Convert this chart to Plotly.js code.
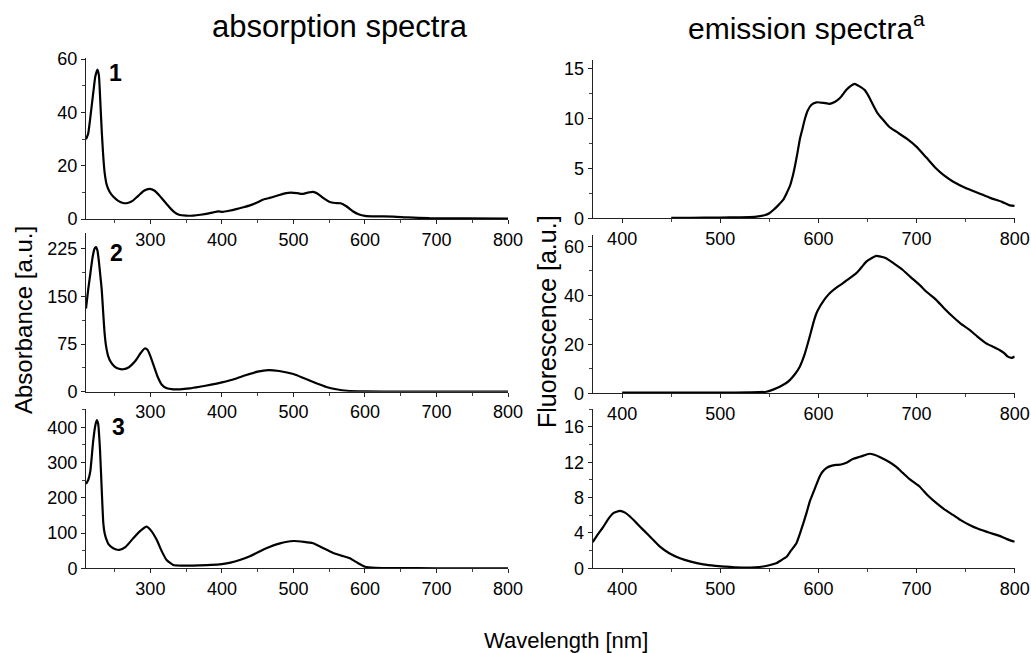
<!DOCTYPE html>
<html>
<head>
<meta charset="utf-8">
<script src="https://cdn.plot.ly/plotly-3.0.1.min.js"></script>
<style>html,body{margin:0;padding:0;background:#fff;}#chart{width:1031px;height:653px;}</style>
</head>
<body>
<div id="chart"></div>
<script>
// ---- Absorption spectra (wavelength nm, absorbance a.u.) ----
var abs1_x = [210,213,216,220,223,226,228,230,232,234,236,239,243,248,255,262,268,275,283,291,299,306,312,318,326,333,340,350,360,370,380,388,395,401,410,420,430,440,450,458,468,478,488,497,505,512,520,527,534,542,550,558,566,574,583,592,600,615,640,660,690,740,800];
var abs1_y = [29.9,32,38,47,53.5,56.1,54,44,33,24,17.5,12.8,10.2,8.4,6.8,6.0,6.0,6.8,8.7,10.6,11.3,10.6,9.0,7.1,4.6,2.7,1.6,1.25,1.3,1.6,2.0,2.5,2.85,2.7,3.1,3.7,4.4,5.2,6.3,7.3,8.0,8.8,9.6,9.9,9.7,9.4,9.9,10.2,9.5,7.8,6.5,6.0,5.9,4.8,2.9,1.7,1.2,1.0,0.9,0.6,0.3,0.2,0.15];

var abs2_x = [210,213,216,219,222,224,226,228,230,232,234,236,238,241,245,250,256,262,270,278,286,292,296,300,305,310,316,323,332,341,355,369,385,400,418,434,450,465,480,500,515,532,546,560,575,600,650,700,800];
var abs2_y = [130.8,160,185,210,225,227.5,222,205,183,160,125,92,72,56,46,39.5,36,35.3,38.5,47,60,68,66,56,40,24,11,5.3,3.8,3.8,5.2,7.8,11,14.7,20,26.2,31.5,34,32.5,27.8,21,13.2,7.5,3.8,1.5,0.5,0.1,0,0];

var abs3_x = [210,213,216,220,223,225,227,229.6,232,234.2,236,238,242,248,256.5,265,276,286,294.8,302,309,316,322.7,332,345,369,385,400,412,425,440,462,480,500,515,527.5,540,555,567,578.8,590,600,615,645,700,800];
var abs3_y = [239,250,275,360,405,420.7,410,335,222,128,100,85,67,56.7,52,60,85,106,118,104,80,48,23.5,9.4,7.5,8.5,9.5,12,16,23.5,35,56.7,70,77.4,75,71,59,44.3,36,28.4,15,4.5,1.5,0.5,0.2,0];

// ---- Emission spectra (wavelength nm, fluorescence a.u.) ----
var em1_x = [450,470,500,520,535,545,550,554,559,564,567.5,570.8,574,576,578.5,581,583.5,586,589,592.9,598,605,611.5,617,621.7,628.5,633,637,641,647,651,655.6,660,665.8,672,679.4,690,699.8,710,720,728,737,750,764,775,787,795,800];
var em1_y = [0.05,0.05,0.07,0.1,0.15,0.3,0.5,0.83,1.3,1.84,2.5,3.2,4.3,5.2,6.5,7.9,8.9,9.9,10.8,11.4,11.65,11.6,11.5,11.7,12.05,12.9,13.3,13.5,13.3,12.9,12.3,11.4,10.6,9.9,9.2,8.7,8.0,7.2,6.1,5.0,4.3,3.7,3.05,2.5,2.05,1.65,1.3,1.25];

var em2_x = [400,450,500,530,547,555,560.6,566,570.8,576,581,586,591,595,598,601.5,604.7,608,611.5,618,625,631,638.7,644,648.8,654,659,664,669,677,686,694,703,711,720,728,737,745,754,762,771,778,784.5,789,793,797,800];
var em2_y = [0.3,0.3,0.3,0.35,0.65,1.7,2.7,3.9,5.4,7.8,10.9,16,23,29,32.7,35.5,37.5,39.3,40.9,43.1,45,46.8,49.1,51.5,53.8,55.2,56.2,55.8,55.2,53,50.4,47.5,44.3,41.2,38.2,34.8,31.3,28.5,25.9,23.2,20.4,19,17.7,16.5,15,14.5,15];

var em3_x = [370,375,380.8,386,391,397.8,403,408,414,421.5,430,438.5,448,458.9,470,482.6,495,506,516,526.7,535,543.7,550,557,562,567.5,572,577.6,582,587.8,591,594.5,598,601.3,604,608,613,618,623,628.5,635,643,652,657,662.4,672.6,679,686,694,703,711,720,728,737,745,754,762,771,778,784.5,792,800];
var em3_y = [2.95,3.8,4.7,5.6,6.24,6.5,6.3,5.86,5.2,4.35,3.4,2.45,1.7,1.13,0.75,0.45,0.28,0.18,0.1,0.07,0.1,0.2,0.35,0.57,0.9,1.3,2.0,2.84,4.2,6.24,7.5,8.5,9.5,10.4,10.9,11.35,11.6,11.7,11.75,11.95,12.37,12.65,12.97,12.85,12.6,12.0,11.5,10.8,10.0,9.26,8.3,7.4,6.7,6.05,5.45,4.9,4.5,4.15,3.9,3.67,3.3,3.0];

var panel_labels = ["1","2","3"];
var titles = ["absorption spectra","emission spectra<sup>a</sup>"];
var yTitles = ["Absorbance [a.u.]","Fluorescence [a.u.]"];
var xTitle = "Wavelength [nm]";

var W = 1031, H = 653;
function px(x){return x/W;}
function py(y){return 1-y/H;}

var FONT = "Liberation Sans, Arial, Helvetica, sans-serif";
var line = {color:'#000', width:2.2, shape:'spline', smoothing:0.5};

var series = [
  [abs1_x,abs1_y],[abs2_x,abs2_y],[abs3_x,abs3_y],
  [em1_x,em1_y],[em2_x,em2_y],[em3_x,em3_y]
];
var traces = series.map(function(s,i){
  var n = i===0 ? '' : String(i+1);
  return {x:s[0], y:s[1], type:'scatter', mode:'lines', line:line,
          xaxis:'x'+n, yaxis:'y'+n, hoverinfo:'skip', showlegend:false};
});

var leftDom = [px(86), px(508)];
var rightDom = [px(592.7), px(1014.7)];
var yDoms = [
  [py(219), py(58.3)], [py(391.7), py(232.7)], [py(568.3), py(409.3)],
  [py(218.3), py(60)], [py(393.3), py(235)], [py(568.3), py(409.3)]
];
var yRanges = [[0,60.3],[0,250],[0,451],[0,15.9],[0,64.7],[0,18]];
var yDt = [20,75,100,5,20,4];

function xAxis(i){
  var left = i<3;
  var n = String(i+1);
  return {
    domain: left?leftDom:rightDom,
    range: left?[210,800]:[370,800],
    anchor: 'y'+(i===0?'':n),
    tick0: 300, dtick: 100,
    showline:true, linecolor:'#222', linewidth:1, mirror:false,
    showgrid:false, zeroline:false,
    ticks:'outside', ticklen:4, tickwidth:1, tickcolor:'#222',
    minor:{dtick:50, tick0:250, ticks:'outside', ticklen:3, tickwidth:1, tickcolor:'#444', showgrid:false},
    tickfont:{family:FONT, size:18, color:'#000'},
    fixedrange:true
  };
}
function yAxis(i){
  var n = String(i+1);
  return {
    domain: yDoms[i],
    range: yRanges[i],
    anchor: 'x'+(i===0?'':n),
    tick0: 0, dtick: yDt[i],
    showline:true, linecolor:'#222', linewidth:1, mirror:false,
    showgrid:false, zeroline:false,
    ticks:'outside', ticklen:4, tickwidth:1, tickcolor:'#222',
    minor:{dtick:yDt[i]/2, ticks:'outside', ticklen:3, tickwidth:1, tickcolor:'#444', showgrid:false},
    tickfont:{family:FONT, size:18, color:'#000'},
    fixedrange:true
  };
}

var layout = {
  width:W, height:H,
  margin:{l:0,r:0,t:0,b:0},
  paper_bgcolor:'#fff', plot_bgcolor:'rgba(0,0,0,0)',
  showlegend:false,
  font:{family:FONT, color:'#000'},
  annotations:[
    {text:titles[0], x:px(340), y:py(27), xref:'paper', yref:'paper', showarrow:false, xanchor:'center', yanchor:'middle', font:{size:31, family:FONT, color:'#000'}},
    {text:titles[1], x:px(806), y:py(26), xref:'paper', yref:'paper', showarrow:false, xanchor:'center', yanchor:'middle', font:{size:30, family:FONT, color:'#000'}},
    {text:yTitles[0], x:px(23), y:py(320), xref:'paper', yref:'paper', showarrow:false, textangle:-90, xanchor:'center', yanchor:'middle', font:{size:24, family:FONT, color:'#000'}},
    {text:yTitles[1], x:px(547), y:py(322), xref:'paper', yref:'paper', showarrow:false, textangle:-90, xanchor:'center', yanchor:'middle', font:{size:25, family:FONT, color:'#000'}},
    {text:xTitle, x:px(566), y:py(640), xref:'paper', yref:'paper', showarrow:false, xanchor:'center', yanchor:'middle', font:{size:22, family:FONT, color:'#000'}},
    {text:'<b>'+panel_labels[0]+'</b>', x:px(115), y:py(73), xref:'paper', yref:'paper', showarrow:false, xanchor:'center', yanchor:'middle', font:{size:23, family:FONT, color:'#000'}},
    {text:'<b>'+panel_labels[1]+'</b>', x:px(116.5), y:py(253), xref:'paper', yref:'paper', showarrow:false, xanchor:'center', yanchor:'middle', font:{size:23, family:FONT, color:'#000'}},
    {text:'<b>'+panel_labels[2]+'</b>', x:px(118), y:py(427), xref:'paper', yref:'paper', showarrow:false, xanchor:'center', yanchor:'middle', font:{size:23, family:FONT, color:'#000'}}
  ]
};
for (var i=0;i<6;i++){
  var k = i===0?'':String(i+1);
  layout['xaxis'+k] = xAxis(i);
  layout['yaxis'+k] = yAxis(i);
}
Plotly.newPlot('chart', traces, layout, {staticPlot:true, displayModeBar:false});
</script>
</body>
</html>
